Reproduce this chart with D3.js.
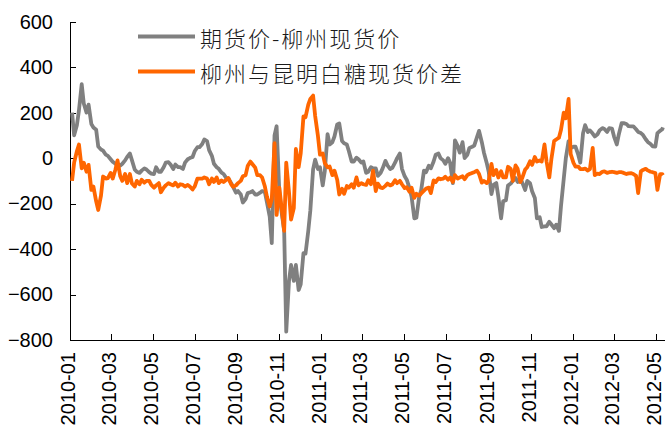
<!DOCTYPE html>
<html>
<head>
<meta charset="utf-8">
<script src="https://d3js.org/d3.v7.min.js"></script>
<style>
  body { margin: 0; background: #fff; }
  svg { display: block; background: #fff; }
  .axis text { font-family: "Liberation Sans", Arial, sans-serif; font-size: 20px; fill: #000; }
  .axis path, .axis line { stroke: #000; stroke-width: 1; shape-rendering: crispEdges; }
  .legend text { font-family: "Noto Sans CJK SC", sans-serif; font-weight: 300; font-size: 22px; letter-spacing: 2px; fill: #1a1a1a; }
</style>
</head>
<body>
<div id="chart"></div>
<script>

// sampled trading days (Mon / Thu)
var dates = [
  "2010-01-04","2010-01-07","2010-01-11","2010-01-14","2010-01-18","2010-01-21","2010-01-25","2010-01-28",
  "2010-02-01","2010-02-04","2010-02-08","2010-02-11","2010-02-15","2010-02-18","2010-02-22","2010-02-25",
  "2010-03-01","2010-03-04","2010-03-08","2010-03-11","2010-03-15","2010-03-18","2010-03-22","2010-03-25","2010-03-29",
  "2010-04-01","2010-04-05","2010-04-08","2010-04-12","2010-04-15","2010-04-19","2010-04-22","2010-04-26","2010-04-29",
  "2010-05-03","2010-05-06","2010-05-10","2010-05-13","2010-05-17","2010-05-20","2010-05-24","2010-05-27","2010-05-31",
  "2010-06-03","2010-06-07","2010-06-10","2010-06-14","2010-06-17","2010-06-21","2010-06-24","2010-06-28",
  "2010-07-01","2010-07-05","2010-07-08","2010-07-12","2010-07-15","2010-07-19","2010-07-22","2010-07-26","2010-07-29",
  "2010-08-02","2010-08-05","2010-08-09","2010-08-12","2010-08-16","2010-08-19","2010-08-23","2010-08-26","2010-08-30",
  "2010-09-02","2010-09-06","2010-09-09","2010-09-13","2010-09-16","2010-09-20","2010-09-23","2010-09-27","2010-09-30",
  "2010-10-04","2010-10-07","2010-10-11","2010-10-14","2010-10-18","2010-10-21","2010-10-25","2010-10-28",
  "2010-11-01","2010-11-04","2010-11-08","2010-11-11","2010-11-15","2010-11-18","2010-11-22","2010-11-25","2010-11-29",
  "2010-12-02","2010-12-06","2010-12-09","2010-12-13","2010-12-16","2010-12-20","2010-12-23","2010-12-27","2010-12-30",
  "2011-01-03","2011-01-06","2011-01-10","2011-01-13","2011-01-17","2011-01-20","2011-01-24","2011-01-27","2011-01-31",
  "2011-02-03","2011-02-07","2011-02-10","2011-02-14","2011-02-17","2011-02-21","2011-02-24","2011-02-28",
  "2011-03-03","2011-03-07","2011-03-10","2011-03-14","2011-03-17","2011-03-21","2011-03-24","2011-03-28","2011-03-31",
  "2011-04-04","2011-04-07","2011-04-11","2011-04-14","2011-04-18","2011-04-21","2011-04-25","2011-04-28",
  "2011-05-02","2011-05-05","2011-05-09","2011-05-12","2011-05-16","2011-05-19","2011-05-23","2011-05-26","2011-05-30",
  "2011-06-02","2011-06-06","2011-06-09","2011-06-13","2011-06-16","2011-06-20","2011-06-23","2011-06-27","2011-06-30",
  "2011-07-04","2011-07-07","2011-07-11","2011-07-14","2011-07-18","2011-07-21","2011-07-25","2011-07-28",
  "2011-08-01","2011-08-04","2011-08-08","2011-08-11","2011-08-15","2011-08-18","2011-08-22","2011-08-25","2011-08-29",
  "2011-09-01","2011-09-05","2011-09-08","2011-09-12","2011-09-15","2011-09-19","2011-09-22","2011-09-26","2011-09-29",
  "2011-10-03","2011-10-06","2011-10-10","2011-10-13","2011-10-17","2011-10-20","2011-10-24","2011-10-27","2011-10-31",
  "2011-11-03","2011-11-07","2011-11-10","2011-11-14","2011-11-17","2011-11-21","2011-11-24","2011-11-28",
  "2011-12-01","2011-12-05","2011-12-08","2011-12-12","2011-12-15","2011-12-19","2011-12-22","2011-12-26","2011-12-29",
  "2012-01-02","2012-01-05","2012-01-09","2012-01-12","2012-01-16","2012-01-19","2012-01-23","2012-01-26","2012-01-30",
  "2012-02-02","2012-02-06","2012-02-09","2012-02-13","2012-02-16","2012-02-20","2012-02-23","2012-02-27",
  "2012-03-01","2012-03-05","2012-03-08","2012-03-12","2012-03-15","2012-03-19","2012-03-22","2012-03-26","2012-03-29",
  "2012-04-02","2012-04-05","2012-04-09","2012-04-12","2012-04-16","2012-04-19","2012-04-23","2012-04-26","2012-04-30",
  "2012-05-03","2012-05-07","2012-05-10","2012-05-11"
];

// 期货价-柳州现货价
var futuresMinusLiuzhou = [
  200,100,145,210,325,240,200,235,
  150,135,125,51,38,33,15,10,
  -5,-16,-25,-35,-33,-25,-10,5,20,
  -10,-50,-60,-65,-55,-45,-50,-62,-68,
  -70,-40,-60,-60,-40,-20,-18,-28,-48,
  -28,-40,-40,-48,-20,-5,0,5,
  30,48,48,62,82,75,35,10,-25,
  -40,-47,-64,-70,-88,-90,-110,-128,-152,
  -145,-160,-195,-180,-154,-150,-145,-160,-160,
  -152,-145,-150,-195,-257,-374,100,140,
  -150,-232,-320,-763,-540,-470,-540,-470,-580,
  -555,-418,-420,-320,-230,-50,-7,-48,-40,
  -120,-58,105,60,70,95,148,152,75,
  65,60,30,-15,-15,2,-5,-20,
  -15,-65,-60,-40,-45,-45,-78,-65,-45,
  -12,-32,-48,-43,-20,0,20,-47,
  -80,-95,-132,-170,-265,-262,-170,-140,-55,
  -62,-34,-45,-15,15,20,0,-10,-25,
  0,-20,-110,78,53,24,70,0,
  15,45,50,55,92,120,70,25,-20,
  -60,-158,-118,-110,-170,-265,-190,-185,-121,
  -112,-100,-87,-105,-90,-110,-140,-100,-110,
  -146,-175,-265,-260,-303,-300,-300,-280,
  -292,-308,-293,-320,-210,-90,0,75,45,
  50,50,15,-20,110,145,115,122,108,
  95,105,122,132,128,115,132,130,
  95,60,105,154,154,150,141,140,140,
  127,115,110,102,83,71,62,52,51,
  110,120,127,135
];

// 柳州与昆明白糖现货价差
var liuzhouMinusKunming = [
  -100,-20,30,60,-45,-20,-60,-30,
  -140,-125,-190,-228,-165,-81,-90,-88,
  -65,-90,-50,-10,-80,-100,-70,-110,-70,
  -112,-125,-100,-115,-95,-108,-100,-100,-118,
  -130,-120,-110,-150,-130,-120,-110,-115,-120,
  -108,-125,-115,-118,-125,-118,-125,-138,
  -125,-90,-90,-90,-85,-90,-115,-90,-105,
  -85,-110,-98,-105,-95,-88,-115,-126,-120,
  -110,-100,-80,-75,-35,-15,-27,-42,-75,
  -75,-85,-125,-170,-213,-180,66,-250,
  -130,-213,-320,-20,-150,-270,-220,40,-40,
  20,183,180,235,260,275,185,98,15,
  20,-22,-40,-37,-75,-55,-95,-160,-135,
  -157,-123,-130,-115,-130,-85,-120,-110,
  -115,-118,-97,-115,-55,-145,-112,-130,-132,
  -122,-112,-120,-116,-97,-110,-100,-115,
  -132,-128,-148,-130,-175,-157,-165,-155,-143,
  -134,-130,-154,-98,-105,-89,-93,-90,-82,
  -95,-85,-105,-75,-90,-85,-80,-93,
  -75,-70,-65,-62,-55,-70,-108,-100,-110,
  -100,-25,-75,-52,-85,-58,-85,-85,-38,
  -48,-100,-32,-47,-105,-85,-50,-40,-14,
  -30,5,-15,-10,-15,60,-15,-85,
  -5,75,82,90,125,200,175,260,18,
  -20,-37,-37,-48,-48,-46,-55,-48,45,
  -75,-68,-70,-60,-58,-65,-62,-60,
  -62,-65,-62,-62,-65,-70,-67,-66,-70,
  -78,-154,-58,-52,-47,-54,-60,-62,-66,
  -140,-70,-70,-75
];

var seriesNames = ["期货价-柳州现货价", "柳州与昆明白糖现货价差"];
var seriesColors = ["#808080", "#ff6600"];

var yTicks = [600, 400, 200, 0, -200, -400, -600, -800];
var xTickLabels = ["2010-01","2010-03","2010-05","2010-07","2010-09","2010-11",
                   "2011-01","2011-03","2011-05","2011-07","2011-09","2011-11",
                   "2012-01","2012-03","2012-05"];
var xDomain = ["2010-01-01", "2012-05-14"];

window.onload = function(){
  drawChart();
};

function drawChart(){
  var outerWidth = 665,
      outerHeight = 436,
      plot = {left: 70, right: 665, top: 21.7, bottom: 340};

  var parseDay = d3.utcParse("%Y-%m-%d"),
      parseMonth = d3.utcParse("%Y-%m");

  var x = d3.scaleUtc()
      .domain(xDomain.map(parseDay))
      .range([plot.left, plot.right]);

  var y = d3.scaleLinear()
      .domain([-800, 600])
      .range([plot.bottom, plot.top]);

  var svg = d3.select("#chart").append("svg")
      .attr("width", outerWidth)
      .attr("height", outerHeight);

  // x axis, ticks point up into the plot, labels turned on their side
  var xAxis = d3.axisBottom(x)
      .tickValues(xTickLabels.map(parseMonth))
      .tickFormat(function(d, i){ return xTickLabels[i]; })
      .tickSizeInner(-6)
      .tickSizeOuter(0);

  var gx = svg.append("g")
      .attr("class", "x axis")
      .attr("transform", "translate(0," + plot.bottom + ")")
      .call(xAxis);

  gx.selectAll("text")
      .attr("transform", "rotate(-90)")
      .attr("text-anchor", "end")
      .attr("x", -12)
      .attr("y", 0)
      .attr("dy", "0.22em");

  // y axis
  var yAxis = d3.axisLeft(y)
      .tickValues(yTicks)
      .tickSizeInner(-6)
      .tickSizeOuter(0)
      .tickPadding(17);

  svg.append("g")
      .attr("class", "y axis")
      .attr("transform", "translate(" + plot.left + ",0)")
      .call(yAxis);

  var line = d3.line()
      .x(function(d){ return x(d.date); })
      .y(function(d){ return y(d.value); });

  var series = [futuresMinusLiuzhou, liuzhouMinusKunming].map(function(values){
    return values.map(function(v, i){ return {date: parseDay(dates[i]), value: v}; });
  });

  svg.selectAll("path.series")
      .data(series)
    .enter().append("path")
      .attr("class", "series")
      .attr("fill", "none")
      .attr("stroke", function(d, i){ return seriesColors[i]; })
      .attr("stroke-width", 3.8)
      .attr("stroke-linejoin", "round")
      .attr("d", line);

  // legend
  var legend = svg.append("g")
      .attr("class", "legend");

  var item = legend.selectAll("g")
      .data(seriesNames)
    .enter().append("g")
      .attr("transform", function(d, i){ return "translate(138," + (36.5 + i * 35) + ")"; });

  item.append("line")
      .attr("x2", 57)
      .attr("stroke", function(d, i){ return seriesColors[i]; })
      .attr("stroke-width", 4);

  item.append("text")
      .attr("x", 62)
      .attr("dominant-baseline", "central")
      .text(function(d){ return d; });
};

</script>
</body>
</html>
